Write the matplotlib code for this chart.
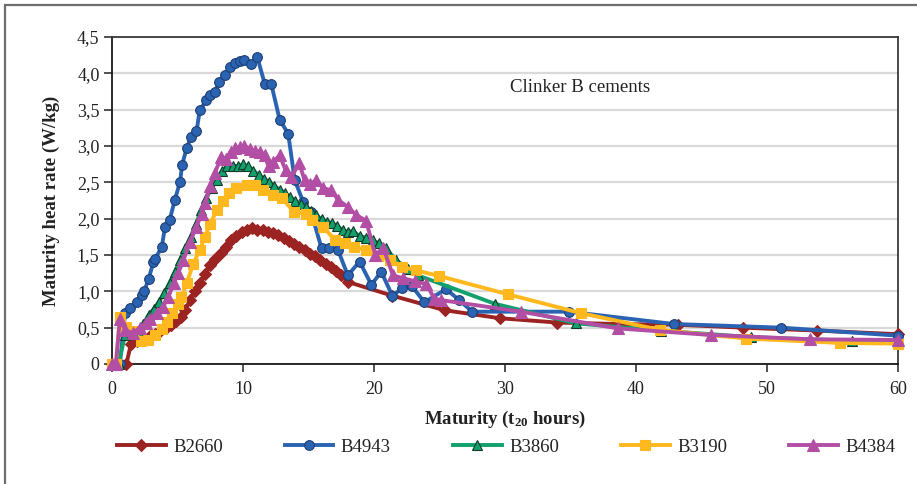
import matplotlib
matplotlib.use("Agg")
import matplotlib.pyplot as plt
from matplotlib.patches import Rectangle
from matplotlib.ticker import FixedLocator

plt.rcParams['font.family'] = ['Liberation Serif', 'DejaVu Serif']
plt.rcParams['mathtext.fontset'] = 'custom'
plt.rcParams['mathtext.rm'] = 'Liberation Serif:bold'
plt.rcParams['mathtext.it'] = 'Liberation Serif:bold'
plt.rcParams['mathtext.bf'] = 'Liberation Serif:bold'

# ---------------- data ----------------
t_B2660 = [0, 0.5, 1.1, 1.45, 1.9, 2.4, 2.9, 3.3, 3.7, 4.1, 4.5, 4.9, 5.3, 5.6, 5.95, 6.3,
           6.7, 7.1, 7.5, 7.9, 8.3, 8.7, 9.1, 9.5, 9.9, 10.3, 10.7, 11.1, 11.5, 11.9, 12.3,
           12.7, 13.1, 13.5, 13.9, 14.3, 14.7, 15.1, 15.5, 15.9, 16.3, 16.7, 17.1, 17.5,
           18.0, 21.4, 25.4, 29.6, 34.0, 38.7, 43.2, 48.2, 53.8, 60]
v_B2660 = [0, 0, 0, 0.28, 0.31, 0.34, 0.38, 0.41, 0.45, 0.49, 0.54, 0.59, 0.65, 0.74, 0.88, 1.0,
           1.11, 1.24, 1.36, 1.45, 1.53, 1.61, 1.70, 1.76, 1.81, 1.84, 1.87, 1.85, 1.84, 1.82, 1.80,
           1.77, 1.73, 1.69, 1.65, 1.61, 1.57, 1.52, 1.48, 1.43, 1.38, 1.33, 1.28, 1.22,
           1.13, 0.94, 0.74, 0.63, 0.57, 0.55, 0.54, 0.50, 0.46, 0.41]

t_B4943 = [0, 0.6, 1.0, 1.4, 1.9, 2.3, 2.45, 2.8, 3.15, 3.3, 3.8, 4.05, 4.4, 4.8, 5.2, 5.35,
           5.7, 6.05, 6.45, 6.7, 7.2, 7.5, 7.85, 8.2, 8.6, 9.0, 9.4, 9.75, 10.1, 10.6, 11.1,
           11.65, 12.15, 12.8, 13.45, 13.95, 14.6, 15.2, 16.0, 16.6, 17.25, 18.0, 18.9, 19.8,
           20.55, 21.4, 22.15, 22.9, 23.85, 25.5, 26.5, 27.5, 34.9, 42.9, 51.1, 60]
v_B4943 = [0, 0, 0.70, 0.77, 0.86, 0.95, 1.0, 1.17, 1.40, 1.45, 1.61, 1.89, 1.98, 2.26, 2.51, 2.74,
           2.97, 3.13, 3.20, 3.49, 3.63, 3.70, 3.75, 3.88, 3.98, 4.09, 4.14, 4.17, 4.18, 4.13, 4.22,
           3.86, 3.86, 3.36, 3.17, 2.53, 2.23, 2.09, 1.59, 1.59, 1.57, 1.22, 1.41, 1.09,
           1.27, 0.94, 1.04, 1.07, 0.85, 1.03, 0.88, 0.72, 0.72, 0.55, 0.50, 0.39]

t_B3860 = [0, 0.5, 1.0, 1.5, 2.0, 2.4, 2.8, 3.2, 3.6, 4.0, 4.4, 4.8, 5.2, 5.6, 6.0, 6.4, 6.8,
           7.2, 7.6, 8.0, 8.4, 8.8, 9.2, 9.6, 10.0, 10.4, 10.8, 11.2, 11.6, 12.0, 12.4, 12.8,
           13.2, 13.6, 14.0, 14.4, 14.8, 15.2, 15.6, 16.0, 16.4, 16.8, 17.2, 17.6, 18.0, 18.4,
           18.9, 19.4, 19.9, 20.4, 20.9, 21.7, 22.6, 23.35, 29.2, 35.4, 41.9, 48.8, 56.5, 60]
v_B3860 = [0, 0, 0.40, 0.42, 0.45, 0.55, 0.68, 0.76, 0.86, 0.98, 1.12, 1.27, 1.43, 1.60, 1.75, 1.92, 2.12,
           2.28, 2.42, 2.53, 2.66, 2.72, 2.73, 2.72, 2.75, 2.72, 2.66, 2.60, 2.55, 2.50, 2.45, 2.40,
           2.35, 2.30, 2.24, 2.20, 2.16, 2.10, 2.05, 1.99, 1.96, 1.94, 1.90, 1.84, 1.82, 1.83,
           1.76, 1.74, 1.70, 1.66, 1.59, 1.43, 1.31, 1.22, 0.83, 0.56, 0.46, 0.37, 0.32, 0.30]

t_B3190 = [0, 0.3, 0.6, 1.1, 1.6, 2.2, 2.75, 3.3, 3.8, 4.2, 4.6, 5.0, 5.3, 5.7, 6.2, 6.7, 7.1,
           7.5, 8.0, 8.5, 8.9, 9.5, 10.3, 10.9, 11.5, 12.3, 13.0, 13.9, 14.8, 15.3, 16.1, 17.0,
           17.8, 18.5, 19.4, 20.3, 21.2, 22.1, 23.2, 25.0, 30.2, 35.8, 41.8, 48.4, 55.6, 60]
v_B3190 = [0, 0, 0.65, 0.51, 0.46, 0.32, 0.33, 0.40, 0.48, 0.58, 0.70, 0.82, 0.92, 1.11, 1.38, 1.57, 1.75,
           1.93, 2.12, 2.25, 2.35, 2.42, 2.46, 2.46, 2.39, 2.32, 2.28, 2.09, 2.07, 1.98, 1.89, 1.71,
           1.66, 1.61, 1.57, 1.48, 1.43, 1.34, 1.29, 1.21, 0.96, 0.70, 0.47, 0.35, 0.29, 0.28]

t_B4384 = [0, 0.3, 0.6, 1.0, 1.6, 2.1, 2.6, 2.9, 3.4, 3.9, 4.3, 4.7, 5.05, 5.45, 5.95, 6.45, 6.85,
           7.1, 7.5, 7.85, 8.35, 8.7, 9.05, 9.4, 9.75, 10.1, 10.5, 10.9, 11.3, 11.65, 11.95, 12.3,
           12.8, 13.25, 13.7, 14.3, 14.7, 15.15, 15.6, 16.1, 16.75, 17.25, 18.0, 18.65, 19.4,
           20.1, 20.7, 21.45, 22.2, 23.1, 24.0, 24.6, 25.1, 31.2, 38.6, 45.7, 53.3, 60]
v_B4384 = [0, 0, 0.62, 0.47, 0.42, 0.50, 0.56, 0.62, 0.70, 0.79, 0.92, 1.11, 1.25, 1.43, 1.68, 1.89, 2.07,
           2.21, 2.45, 2.63, 2.85, 2.82, 2.92, 2.97, 2.99, 3.00, 2.96, 2.93, 2.92, 2.87, 2.72, 2.78,
           2.87, 2.67, 2.58, 2.76, 2.53, 2.48, 2.53, 2.42, 2.39, 2.26, 2.16, 2.05, 1.97,
           1.50, 1.60, 1.22, 1.18, 1.14, 1.10, 0.90, 0.88, 0.72, 0.49, 0.40, 0.34, 0.33]

y_ticks = [0, 0.5, 1.0, 1.5, 2.0, 2.5, 3.0, 3.5, 4.0, 4.5]
y_tick_labels = ["0", "0,5", "1,0", "1,5", "2,0", "2,5", "3,0", "3,5", "4,0", "4,5"]
x_ticks = [0, 10, 20, 30, 40, 50, 60]

# ---------------- figure ----------------
W, H = 917, 484
fig = plt.figure(figsize=(W / 100, H / 100), dpi=100)
fig.patch.set_facecolor('white')

# outer frame (left and top edges visible)
fig.patches.append(Rectangle((5 / W, -0.2), 1.2, 1 - 5 / H + 0.2, transform=fig.transFigure,
                             fill=False, edgecolor='#6d6d6d', linewidth=1.6, zorder=0))

ax = fig.add_axes([112 / W, 1 - 364 / H, (898 - 112) / W, (364 - 37) / H])

series = [
    ("B2660", t_B2660, v_B2660, '#9b2321', 'D', 5.8, '#9b2321'),
    ("B4943", t_B4943, v_B4943, '#2b63b3', 'o', 7.0, '#1d3f73'),
    ("B3860", t_B3860, v_B3860, '#12a06c', '^', 7.6, '#14392a'),
    ("B3190", t_B3190, v_B3190, '#ffb81d', 's', 6.8, '#ffb81d'),
    ("B4384", t_B4384, v_B4384, '#b24fa4', '^', 8.0, '#b24fa4'),
]
for i, (name, t, v, col, mk, ms, ec) in enumerate(series):
    ax.plot(t, v, color=col, linewidth=2.8, marker=mk, markersize=ms,
            markerfacecolor=col, markeredgecolor=ec, markeredgewidth=0.8,
            label=name, zorder=3 + i, clip_on=False)

ax.set_xlim(0, 60)
ax.set_ylim(0, 4.5)
ax.yaxis.set_major_locator(FixedLocator(y_ticks))
ax.set_yticklabels(y_tick_labels)
ax.set_xticks(x_ticks)
ax.set_xticklabels([str(x) for x in x_ticks])
ax.grid(axis='y', color='#d9d9d9', linewidth=1.6, zorder=0)
ax.set_axisbelow(True)

for s in ['left', 'bottom']:
    ax.spines[s].set_color('#1a1a1a')
    ax.spines[s].set_linewidth(1.3)
for s in ['top', 'right']:
    ax.spines[s].set_color('#3a3a3a')
    ax.spines[s].set_linewidth(1.3)

ax.tick_params(axis='both', direction='out', length=6, width=1.2, color='#333333',
               labelsize=13, labelcolor='#222222')
ax.tick_params(axis='x', pad=6)
ax.tick_params(axis='y', pad=3)

ax.set_ylabel("Maturity heat rate (W/kg)", fontsize=13.5, fontweight='bold', color='#222222',
              labelpad=12)
ax.set_xlabel(r"Maturity (t$_{20}$ hours)", fontsize=13.5, fontweight='bold', color='#222222',
              labelpad=8)

ax.text(35.7, 3.8, "Clinker B cements", fontsize=13.5, color='#222222', ha='center', va='center')

handles, labels = ax.get_legend_handles_labels()
fig.legend(handles, labels, loc='center', bbox_to_anchor=(506 / W, 1 - 447 / H), ncol=5,
           frameon=False, fontsize=13.5, handlelength=2.6, handletextpad=0.4,
           columnspacing=3.3, labelcolor='#222222')

fig.savefig("out.png", dpi=100, facecolor='white')
